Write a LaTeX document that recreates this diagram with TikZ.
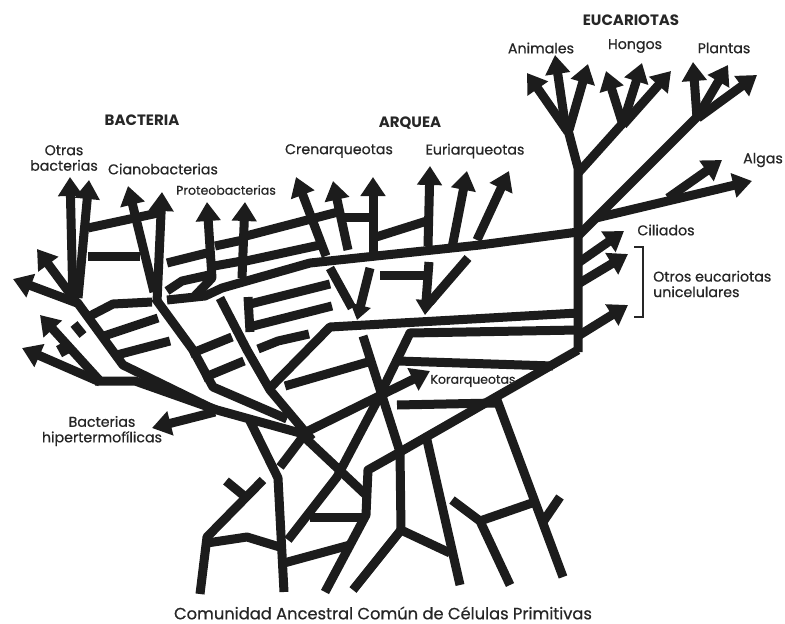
\documentclass[tikz,border=0pt]{standalone}
\usepackage{fontspec}
\setmainfont{Poppins}
\newfontfamily\labfont{Poppins}[FakeBold=0.6]
\usetikzlibrary{arrows.meta}
\definecolor{ink}{HTML}{1C1C1C}
\definecolor{txt}{HTML}{262626}
\begin{document}
\begin{tikzpicture}[x=1pt,y=-1pt,
  br/.style={draw=ink,line width=9pt,line join=round},
  ar/.style={br,-{Triangle[width=24pt,length=19pt]}},
  sar/.style={br,-{Triangle[width=20pt,length=15pt]}},
  lab/.style={font=\labfont\fontsize{14.2}{15.5}\selectfont,text=txt,inner sep=0pt},
  slab/.style={font=\labfont\fontsize{12.5}{14}\selectfont,text=txt,inner sep=0pt},
  head/.style={font=\bfseries\fontsize{15}{17}\selectfont,text=txt,inner sep=0pt}]
\useasboundingbox[fill=white] (0,0) rectangle (785,624);

% ---------- Eukaryotes ----------
\draw[br] (578,352) -- (578,168) -- (568,130);
\draw[ar] (568,132) -- (527,73);
\draw[ar] (566,130) -- (555,55);
\draw[ar] (569,130) -- (588,64);
\draw[br] (579,172) -- (623,123);
\draw[ar] (623,125) -- (606,71);
\draw[ar] (623,123) -- (642,63);
\draw[ar] (623,125) -- (671,71);
\draw[br] (579,235) -- (698,116);
\draw[ar] (697,118) -- (693,62);
\draw[ar] (698,116) -- (728,65);
\draw[ar] (698,118) -- (757,75);
\draw[ar] (596,218) -- (752,181);
\draw[ar] (668,198) -- (722,160);
\draw[ar] (578,263) -- (624,231);
\draw[ar] (578,284) -- (628,254);
\draw[ar] (578,336) -- (628,305);
\draw[draw=txt,line width=1.2pt] (634,247) -- (643,247) -- (643,317) -- (634,317);

% ---------- long lines to the eukaryote trunk ----------
\draw[br] (167,300) -- (205,296) -- (222,288) -- (310,263) -- (480,245) -- (578,232);
\draw[br] (268,390) -- (330,327) -- (578,313);
\draw[br] (578,330) -- (410,333) -- (375,405) -- (337,477) -- (288,540);
\draw[br] (398,361) -- (553,366);
\draw[br] (397,405) -- (495,403);
\draw[br] (578,350) -- (400,452) -- (368,470) -- (366,515) -- (325,592);
\draw[br] (363,336) -- (400,452) -- (401,530) -- (450,553);
\draw[br] (497,400) -- (563,577);
\draw[br] (543,522) -- (560,497);
\draw[br] (427,440) -- (460,585);
\draw[br] (452,500) -- (480,521) -- (510,585);
\draw[br] (480,521) -- (532,503);
\draw[br] (401,530) -- (353,590);
\draw[ar] (300,435) -- (430,371);

% ---------- Bacteria ----------
\draw[br] (95,381) -- (135,381) -- (217,410) -- (300,433) -- (366,495);
\draw[br] (77,302) -- (123,365) -- (215,410);
\draw[ar] (215,412) -- (152,428);
\draw[ar] (77,303) -- (37,249);
\draw[ar] (77,303) -- (13,279);
\draw[ar] (100,381) -- (40,315);
\draw[ar] (100,382) -- (22,348);
\draw[br] (74,324) -- (83,335);
\draw[br] (60,344) -- (66,355);
\draw[ar] (73,302) -- (70,177);
\draw[ar] (78,298) -- (89,180);
\draw[ar] (154,292) -- (128,186);
\draw[ar] (157,302) -- (162,192);
\draw[br] (155,298) -- (193,350) -- (213,387) -- (287,419);
\draw[br] (88,228) -- (158,213);
\draw[br] (88,256) -- (140,256);
\draw[br] (88,317) -- (113,304) -- (152,302);
\draw[br] (101,337) -- (158,318);
\draw[br] (113,356) -- (170,341);
\draw[br] (190,354) -- (232,337);
\draw[br] (203,378) -- (244,361);
\draw[ar] (193,298) -- (212,278) -- (207,202);
\draw[ar] (242,278) -- (245,202);
\draw[br] (220,298) -- (247,350) -- (270,390) -- (312,440);
\draw[br] (167,263) -- (207,253);
\draw[br] (215,246) -- (243,240);
\draw[br] (167,291) -- (182,281) -- (209,275);
\draw[br] (214,266) -- (242,261);
\draw[br] (246,236) -- (338,212);
\draw[br] (246,261) -- (320,245);
\draw[br] (248,297) -- (250,332);
\draw[br] (250,304) -- (330,284);
\draw[br] (253,326) -- (332,306);
\draw[br] (258,349) -- (278,341) -- (309,334);
\draw[br] (285,386) -- (368,362);
\draw[br] (280,467) -- (302,438);
\draw[br] (250,421) -- (278,478) -- (284,592);
\draw[br] (263,480) -- (207,537) -- (200,594);
\draw[br] (226,481) -- (243,495);
\draw[br] (207,543) -- (247,537) -- (283,548);
\draw[br] (284,563) -- (350,545);
\draw[br] (310,517) -- (367,517);

% ---------- Archaea ----------
\draw[ar] (326,256) -- (296,177);
\draw[ar] (348,250) -- (333,181);
\draw[ar] (373,252) -- (373,177);
\draw[br] (344,217) -- (373,217);
\draw[br] (373,238) -- (430,220);
\draw[ar] (428,246) -- (430,166);
\draw[ar] (452,248) -- (467,171);
\draw[ar] (477,240) -- (509,171);
\draw[br] (330,268) -- (352,308);
\draw[sar] (370,268) -- (357,320);
\draw[br] (380,275) -- (428,275);
\draw[br] (468,258) -- (430,302);
\draw[sar] (429,262) -- (425,315);

% ---------- Labels ----------
\node[head] (euc) at (631,20) {EUCARIOTAS};
\node[lab] (ani) at (541,48) {Animales};
\node[lab] (hon) at (635,46) {Hongos};
\node[lab] (pla) at (724,48) {Plantas};
\node[lab] (alg) at (763,160) {Algas};
\node[lab] (cil) at (666,230) {Ciliados};
\node[lab,anchor=west,align=left] (otr) at (653,284) {Otros eucariotas\\unicelulares};
\node[head] (bac) at (142,120) {BACTERIA};
\node[lab,align=center] (obac) at (64,158) {Otras\\bacterias};
\node[lab] (cia) at (163,169) {Cianobacterias};
\node[slab] (pro) at (226,190) {Proteobacterias};
\node[head] (arq) at (410,123) {ARQUEA};
\node[lab] (cre) at (339,151) {Crenarqueotas};
\node[lab] (eur) at (475,151) {Euriarqueotas};
\node[slab] (kor) at (473,381) {Korarqueotas};
\node[lab,align=center] (hip) at (102,431) {Bacterias\\hipertermofílicas};
\node[font=\labfont\fontsize{16.3}{18}\selectfont,text=txt,inner sep=0pt] (com) at (383,613) {Comunidad Ancestral Común de Células Primitivas};
\end{tikzpicture}
\end{document}
